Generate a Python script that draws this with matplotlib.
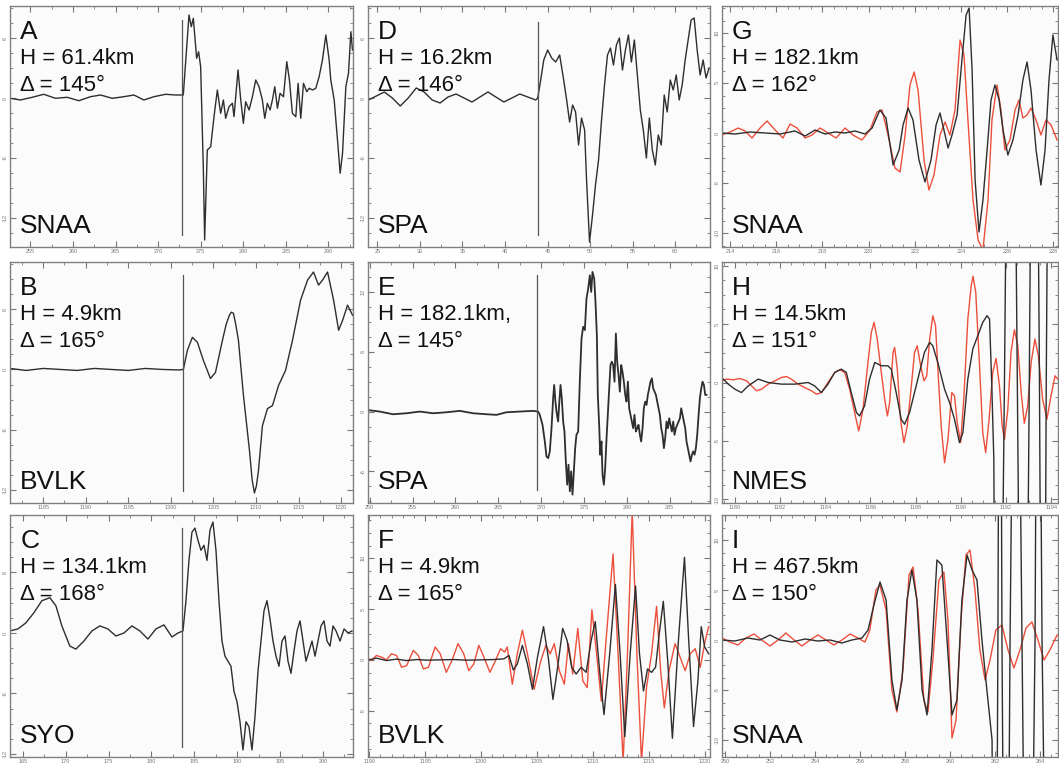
import numpy as np
import matplotlib.pyplot as plt
from matplotlib.ticker import MultipleLocator, AutoMinorLocator

plt.rcParams['font.family'] = ['Liberation Sans', 'DejaVu Sans']

# event / station annotations, panels A..I (column by column)
letters = ['A', 'B', 'C', 'D', 'E', 'F', 'G', 'H', 'I']
depths = ['61.4km', '4.9km', '134.1km', '16.2km', '182.1km,', '4.9km', '182.1km', '14.5km', '467.5km']
distances = [145, 165, 168, 146, 145, 165, 162, 151, 150]
stations = ['SNAA', 'BVLK', 'SYO', 'SPA', 'SPA', 'BVLK', 'SNAA', 'NMES', 'SNAA']

# picked arrival time (s) and the amplitude span of the pick marker
arrivals = {'A': 272.76, 'B': 1201.47, 'C': 183.55, 'D': 43.85, 'E': 269.57}
arrival_span = {'A': (-13.7, 7.8), 'B': (-12.1, 9.4), 'C': (-11.3, 10.4),
                'D': (-13.7, 7.6), 'E': (-7.83, 13.67)}

# recorded traces: (time s, amplitude)
trace_a = [(252.65, -0.03), (253.82, -0.2), (255.2, 0.07), (256.57, 0.37), (257.94, -0.03),
           (259.31, 0.07), (260.69, -0.27), (262.06, 0.13), (263.24, 0.3), (264.61, -0.03),
           (265.98, 0.13), (267.16, 0.3), (268.33, -0.2), (269.51, 0.13), (270.88, 0.37),
           (272.06, 0.3), (272.96, 0.3), (273.63, 8.3), (273.9, 7.13), (274.14, 7.97),
           (274.53, 3.97), (274.76, 4.63), (275.0, 3.13), (275.31, -6.87), (275.47, -14.2),
           (275.78, -5.2), (276.18, -4.87), (276.57, -1.87), (276.96, 0.8), (277.35, -1.53),
           (277.67, -0.2), (277.94, -2.03), (278.33, -0.87), (278.73, -0.53), (278.92, -1.87),
           (279.39, 2.8), (279.71, -0.2), (280.02, -2.53), (280.29, -0.37), (280.69, -1.2),
           (281.08, 0.13), (281.47, 1.8), (281.86, 1.13), (282.25, -0.2), (282.53, -2.03),
           (282.84, -0.53), (283.16, -1.2), (283.43, -0.2), (283.71, 1.13), (284.02, -1.03),
           (284.33, 0.47), (284.73, 0.13), (285.12, 3.63), (285.43, 1.8), (285.78, -1.53),
           (286.18, -1.87), (286.45, 1.47), (286.76, -2.03), (287.08, 1.47), (287.47, 0.63),
           (287.75, 0.97), (288.14, 0.8), (288.53, 0.97), (288.92, 2.13), (289.31, 3.8),
           (289.71, 6.3), (290.1, 3.8), (290.29, 1.8), (290.69, -0.2), (291.08, -4.2),
           (291.39, -7.53), (291.67, -5.53), (292.06, 1.13), (292.37, 2.47), (292.65, 6.63),
           (292.84, 4.8)]

trace_b = [(1181.1, 0.1), (1183.0, -0.1), (1185.0, 0.1), (1187.0, 0.0), (1189.0, -0.1),
           (1191.0, 0.1), (1193.0, 0.0), (1195.0, -0.1), (1197.0, 0.1), (1199.0, 0.0),
           (1201.0, -0.05), (1201.47, 0.0), (1201.94, 1.9), (1202.53, 3.2), (1203.12, 2.7),
           (1203.82, 0.9), (1204.65, -0.9), (1205.24, -0.3), (1206.06, 2.9), (1206.5, 4.5),
           (1206.88, 5.4), (1207.1, 5.7), (1207.35, 5.6), (1207.6, 4.6), (1207.94, 2.9),
           (1208.53, -2.6), (1209.24, -8.1), (1209.55, -11.0), (1209.82, -12.3), (1210.05, -11.6),
           (1210.29, -10.1), (1210.76, -5.6), (1211.35, -3.9), (1211.94, -3.6), (1212.65, -1.6),
           (1213.47, -0.1), (1214.29, 2.9), (1215.24, 6.9), (1216.06, 8.9), (1216.76, 9.7),
           (1217.35, 8.4), (1217.82, 8.9), (1218.41, 9.7), (1219.12, 6.9), (1219.71, 3.9),
           (1220.18, 4.9), (1220.76, 6.4), (1221.35, 5.4)]

trace_c = [(163.48, 0.2), (164.42, 0.4), (165.35, 1.0), (166.28, 2.0), (167.22, 3.2),
           (168.15, 3.5), (168.85, 2.7), (169.55, 0.7), (170.48, -1.3), (171.18, -1.6),
           (172.12, -0.8), (173.05, 0.2), (173.98, 0.7), (174.92, 0.4), (175.85, -0.3),
           (176.79, 0.0), (177.72, 0.7), (178.65, 0.2), (179.59, -0.6), (180.52, 0.4),
           (181.45, 0.8), (182.39, -0.4), (183.09, 0.0), (183.67, 0.2), (184.02, 3.2),
           (184.37, 7.2), (184.72, 10.0), (185.07, 10.4), (185.42, 9.2), (185.77, 8.2),
           (186.12, 8.7), (186.47, 7.2), (186.82, 10.2), (187.17, 11.0), (187.52, 8.2),
           (187.87, 3.2), (188.22, -0.8), (188.57, -2.3), (188.92, -2.8), (189.27, -3.3),
           (189.62, -5.8), (189.97, -6.8), (190.32, -8.8), (190.67, -11.6), (191.02, -8.8),
           (191.37, -9.3), (191.72, -11.6), (192.07, -8.3), (192.42, -3.8), (192.77, -0.8),
           (193.12, 2.2), (193.47, 3.2), (193.82, 1.4), (194.17, -0.8), (194.52, -2.3),
           (194.87, -3.3), (195.22, -0.8), (195.57, -0.3), (195.92, -2.8), (196.27, -4.0),
           (196.62, -1.8), (196.97, 0.2), (197.32, 1.2), (197.67, -0.8), (198.02, -2.8),
           (198.37, -1.8), (198.72, -0.8), (199.07, -2.3), (199.42, -0.8), (199.77, 0.7),
           (200.12, 1.2), (200.47, -0.8), (200.82, -1.3), (201.17, 0.7), (201.52, 0.2),
           (201.99, -0.8), (202.46, 0.4), (202.92, 0.0), (203.39, 0.2)]

trace_d = [(23.95, -0.2), (24.88, 0.2), (25.82, 0.6), (26.76, 0.0), (27.69, -0.8),
           (28.63, 0.0), (29.57, 1.0), (30.5, 0.6), (31.44, -0.2), (32.38, -0.5),
           (33.31, 0.1), (34.25, 0.4), (35.19, 0.0), (36.12, -0.4), (37.06, 0.1),
           (38.0, 0.6), (38.93, 0.1), (39.87, -0.4), (40.81, 0.0), (41.74, 0.4),
           (42.68, 0.1), (43.62, -0.2), (43.85, 0.0), (44.2, 1.8), (44.56, 3.8),
           (45.02, 4.8), (45.49, 4.0), (45.96, 3.6), (46.43, 4.3), (46.9, 1.8),
           (47.25, -0.2), (47.6, -2.4), (47.95, -0.7), (48.3, -1.4), (48.65, -4.7),
           (49.0, -2.0), (49.36, -3.2), (49.59, -8.2), (49.94, -14.4), (50.29, -11.7),
           (50.64, -8.7), (51.0, -6.2), (51.35, -2.2), (51.7, 1.3), (52.05, 4.3),
           (52.4, 5.0), (52.75, 3.3), (53.1, 5.3), (53.45, 6.0), (53.81, 2.8),
           (54.16, 4.8), (54.51, 6.3), (54.86, 3.6), (55.21, 5.8), (55.56, 2.3),
           (55.91, -1.2), (56.26, -3.2), (56.62, -6.0), (56.97, -2.0), (57.32, -5.2),
           (57.67, -6.7), (58.02, -3.7), (58.37, -4.7), (58.72, 0.3), (59.07, -1.4),
           (59.43, 1.8), (59.78, 0.8), (60.13, 2.3), (60.48, -0.2), (60.83, 1.3),
           (61.18, 3.8), (61.53, 5.8), (61.88, 7.8), (62.24, 8.0), (62.59, 4.8),
           (62.94, 2.3), (63.29, 3.8), (63.64, 2.0), (63.99, 3.0)]

trace_e = [(249.61, 0.17), (251.17, 0.0), (252.72, -0.27), (254.28, -0.17), (255.84, 0.0),
           (257.39, -0.17), (258.95, -0.07), (260.51, 0.07), (262.06, -0.17), (263.62, -0.27),
           (264.79, -0.33), (265.95, -0.07), (267.51, 0.0), (269.07, 0.07), (269.65, 0.0),
           (269.84, -0.33), (270.16, -1.33), (270.43, -3.0), (270.62, -4.5), (270.82, -4.67),
           (271.01, -4.0), (271.21, -1.67), (271.4, 1.33), (271.52, 2.67), (271.67, 1.0),
           (271.79, 0.0), (271.98, -1.0), (272.1, 0.67), (272.26, 2.67), (272.41, 1.33),
           (272.57, -1.0), (272.72, -2.0), (272.88, -5.0), (273.04, -7.33), (273.19, -5.33),
           (273.35, -8.0), (273.5, -6.0), (273.66, -8.33), (273.81, -6.0), (273.97, -3.67),
           (274.12, -2.33), (274.32, -2.0), (274.51, 3.0), (274.71, 7.33), (274.9, 8.5),
           (275.1, 8.17), (275.29, 11.33), (275.49, 12.33), (275.68, 13.67), (275.84, 12.0),
           (275.99, 14.0), (276.19, 13.33), (276.34, 11.0), (276.5, 7.67), (276.61, 1.67),
           (276.77, -1.33), (276.89, -4.33), (277.04, -3.0), (277.16, -6.33), (277.32, -7.33),
           (277.47, -5.67), (277.63, -2.67), (277.78, -0.33), (277.94, 2.33), (278.09, 4.67),
           (278.25, 5.0), (278.4, 4.67), (278.56, 3.0), (278.72, 7.83), (278.87, 5.0),
           (279.03, 3.67), (279.18, 2.0), (279.34, 4.67), (279.49, 4.0), (279.65, 3.0),
           (279.81, 1.67), (279.96, 1.0), (280.12, 3.0), (280.27, 0.33), (280.43, -0.33),
           (280.58, -1.0), (280.74, -1.67), (280.89, -0.33), (281.05, -2.0), (281.21, -1.67),
           (281.36, -1.33), (281.52, -2.33), (281.67, -3.0), (281.83, -1.67), (281.98, 0.33),
           (282.14, 1.0), (282.3, 0.67), (282.45, 1.67), (282.61, 2.33), (282.76, 3.0),
           (282.92, 3.33), (283.07, 2.33), (283.23, 2.0), (283.39, 1.67), (283.54, 1.0),
           (283.7, 0.33), (283.85, -0.33), (284.01, -1.67), (284.16, -2.33), (284.32, -3.67),
           (284.47, -2.67), (284.63, -1.0), (284.79, -1.67), (284.94, -0.67), (285.1, -1.33),
           (285.25, -2.0), (285.41, -1.0), (285.56, -2.33), (285.72, -1.67), (285.88, -1.33),
           (286.03, -1.0), (286.19, -0.67), (286.34, 0.33), (286.5, -0.33), (286.65, -1.0),
           (286.81, -1.67), (286.96, -3.0), (287.12, -3.67), (287.28, -4.33), (287.43, -5.0),
           (287.59, -4.33), (287.74, -4.0), (287.9, -4.33), (288.05, -3.67), (288.21, -2.33),
           (288.37, -0.33), (288.52, 1.33), (288.68, 2.33), (288.83, 3.0), (288.99, 2.67),
           (289.14, 1.67), (289.3, 1.67)]

# observed (black) and synthetic (red) pairs
trace_f_obs = [(1189.75, -0.07), (1190.65, 0.17), (1191.55, -0.07), (1192.45, 0.07), (1193.35, -0.07),
               (1194.25, 0.03), (1195.15, -0.03), (1196.35, 0.0), (1197.55, 0.03), (1198.75, -0.03),
               (1199.95, 0.0), (1201.15, 0.03), (1202.04, 0.1), (1202.49, 0.43), (1202.88, -1.0),
               (1203.24, -0.4), (1203.69, 1.43), (1204.14, -0.4), (1204.59, -2.9), (1205.04, 0.27),
               (1205.58, 3.27), (1206.0, 0.27), (1206.42, -3.9), (1206.84, -0.73), (1207.29, 3.1),
               (1207.68, 1.93), (1208.1, -0.73), (1208.49, -1.4), (1208.94, -0.73), (1209.39, -1.23),
               (1209.84, 1.93), (1210.2, 3.77), (1210.59, -1.07), (1210.98, -5.4), (1211.49, 0.6),
               (1212.0, 7.43), (1212.42, 0.6), (1212.84, -7.57), (1213.32, 0.6), (1213.8, 7.27),
               (1214.15, 0.6), (1214.51, -3.07), (1214.87, -0.9), (1215.23, -1.23), (1215.59, -0.73),
               (1215.92, 2.6), (1216.28, 5.77), (1216.67, -0.07), (1217.09, -7.73), (1217.63, 1.93),
               (1218.17, 10.1), (1218.53, 2.27), (1218.98, -6.57), (1219.37, -2.07), (1219.67, 3.27),
               (1219.97, 1.27), (1220.33, 0.6)]
trace_f_syn = [(1189.75, 0.27), (1190.2, -0.07), (1190.65, 0.43), (1191.1, 0.27), (1191.55, 0.0),
               (1192.0, 0.6), (1192.45, 0.43), (1192.9, -0.73), (1193.35, -0.57), (1193.95, 0.93),
               (1194.4, 0.43), (1194.85, -0.9), (1195.3, -0.73), (1195.9, 1.27), (1196.35, 0.6),
               (1196.89, -1.23), (1197.4, -0.07), (1197.94, 1.6), (1198.45, 0.6), (1198.9, -1.07),
               (1199.35, -0.4), (1199.8, 1.43), (1200.25, 0.27), (1200.79, -1.23), (1201.29, -0.07),
               (1201.74, 1.1), (1202.1, 0.77), (1202.34, 1.27), (1202.79, -2.4), (1203.24, 0.6),
               (1203.69, 2.93), (1204.14, 0.6), (1204.74, -2.9), (1205.34, -0.07), (1205.79, 1.43),
               (1206.18, 0.6), (1206.54, 1.6), (1206.99, -1.07), (1207.44, -2.4), (1207.8, 1.6),
               (1208.19, -1.4), (1208.64, 3.1), (1209.09, -2.07), (1209.48, -2.73), (1209.9, 4.93),
               (1210.32, 0.6), (1210.74, -4.07), (1211.19, 2.27), (1211.79, 10.43), (1212.24, 0.6),
               (1212.69, -10.07), (1213.08, 0.6), (1213.5, 14.6), (1213.92, 0.6), (1214.33, -10.0),
               (1214.78, -2.73), (1215.23, 0.6), (1215.68, 5.27), (1216.04, -1.07), (1216.37, -4.73),
               (1216.79, -1.07), (1217.33, 1.6), (1217.78, 0.27), (1218.23, -1.07), (1218.68, 0.6),
               (1219.13, 1.1), (1219.58, -0.73), (1220.03, 1.93), (1220.33, 3.27)]

trace_g_obs = [(213.65, 0.0), (214.22, -0.1), (214.87, 0.1), (215.52, 0.0), (216.16, -0.1),
               (216.81, 0.2), (217.25, -0.3), (217.68, 0.3), (218.11, -0.1), (218.55, 0.1),
               (218.98, 0.0), (219.41, 0.2), (219.84, -0.1), (220.15, 0.5), (220.49, 2.3),
               (220.75, 1.5), (221.06, -3.2), (221.32, -1.7), (221.49, 0.8), (221.71, 2.5),
               (221.92, 1.3), (222.18, -2.7), (222.44, -4.9), (222.7, -2.7), (222.92, 0.8),
               (223.09, 2.0), (223.26, 0.3), (223.44, -1.5), (223.61, -0.2), (223.83, 1.8),
               (224.04, 7.3), (224.22, 11.8), (224.35, 12.5), (224.48, 6.3), (224.61, -4.7),
               (224.78, -9.9), (224.95, -6.7), (225.13, -1.7), (225.3, 3.3), (225.47, 4.8),
               (225.65, 3.3), (225.82, 0.3), (226.03, -2.2), (226.25, -0.7), (226.47, 1.8),
               (226.68, 5.3), (226.86, 7.1), (227.03, 4.3), (227.25, -1.7), (227.46, -5.2),
               (227.64, -1.7), (227.81, 5.3), (227.98, 9.8), (228.16, 7.3)]
trace_g_syn = [(213.65, -0.2), (214.0, 0.1), (214.35, 0.5), (214.65, 0.2), (214.95, -0.5),
               (215.3, 0.5), (215.6, 1.2), (215.95, 0.3), (216.29, -0.5), (216.6, 0.9),
               (216.9, 0.5), (217.25, -0.5), (217.55, -0.2), (217.9, 0.5), (218.24, 0.0),
               (218.59, -0.5), (218.98, 0.5), (219.32, -0.2), (219.71, -0.7), (220.06, 0.3),
               (220.36, 2.1), (220.58, 2.3), (220.84, -0.2), (221.14, -3.5), (221.36, -3.9),
               (221.58, -0.2), (221.79, 4.8), (221.97, 6.1), (222.14, 4.3), (222.4, -2.7),
               (222.61, -5.7), (222.83, -4.2), (223.09, -0.2), (223.31, 1.1), (223.52, -0.2),
               (223.74, 2.3), (223.96, 9.3), (224.13, 7.8), (224.3, 1.3), (224.52, -6.7),
               (224.74, -10.7), (224.95, -11.7), (225.17, -6.7), (225.34, 1.3), (225.56, 4.8),
               (225.73, 2.3), (225.9, -1.7), (226.12, -0.7), (226.34, 2.3), (226.51, 3.3),
               (226.68, 1.5), (226.86, 1.8), (227.03, 2.5), (227.25, 1.3), (227.46, -0.2),
               (227.68, 1.3), (227.9, 0.8), (228.16, -0.7)]

trace_h_obs = [(1179.41, 0.43), (1179.71, -0.14), (1180.0, -0.57), (1180.29, -0.86), (1180.59, -0.29),
               (1181.03, 0.29), (1181.47, 0.0), (1182.06, -0.14), (1182.65, -0.14), (1183.24, 0.0),
               (1183.53, -0.29), (1183.83, -0.86), (1184.12, -0.14), (1184.42, 0.86), (1184.71, 1.14),
               (1184.93, 0.86), (1185.15, -0.86), (1185.38, -2.57), (1185.52, -2.86), (1185.74, -2.0),
               (1185.96, 0.29), (1186.19, 1.71), (1186.48, 1.43), (1186.77, 1.43), (1186.92, 1.14),
               (1187.14, -0.86), (1187.36, -3.14), (1187.51, -3.57), (1187.73, -2.57), (1187.95, -0.86),
               (1188.17, 0.86), (1188.39, 2.57), (1188.62, 3.43), (1188.76, 3.14), (1188.98, 1.71),
               (1189.28, -0.57), (1189.5, -1.71), (1189.72, -3.14), (1189.94, -5.14), (1190.09, -4.29),
               (1190.31, 0.29), (1190.53, 2.86), (1190.75, 4.0), (1190.97, 5.14), (1191.16, 5.71),
               (1191.27, 5.43), (1191.37, -0.29), (1191.46, -6.57), (1191.6, -60.0), (1191.93, 0.0),
               (1192.22, 60.0), (1192.5, 0.0), (1192.77, -60.0), (1193.03, 0.0), (1193.25, 60.0),
               (1193.48, 0.0), (1193.64, -60.0), (1193.78, 0.0), (1193.99, 60.0), (1194.29, 40.0)]
trace_h_syn = [(1179.41, 0.14), (1179.63, 0.29), (1179.93, 0.23), (1180.22, 0.34), (1180.52, 0.14),
               (1180.74, -0.29), (1180.96, -0.71), (1181.18, -0.57), (1181.47, -0.14), (1181.77, 0.14),
               (1182.06, 0.43), (1182.28, 0.51), (1182.5, 0.29), (1182.8, -0.14), (1183.09, -0.43),
               (1183.39, -0.71), (1183.61, -1.0), (1183.83, -0.86), (1184.12, 0.0), (1184.42, 0.86),
               (1184.64, 1.09), (1184.86, 0.86), (1185.08, -0.57), (1185.3, -2.57), (1185.48, -4.14),
               (1185.67, -2.29), (1185.89, 1.71), (1186.04, 4.29), (1186.16, 5.14), (1186.3, 3.71),
               (1186.48, 0.86), (1186.63, -1.43), (1186.75, -2.86), (1186.85, -1.71), (1187.0, 2.57),
               (1187.07, 3.0), (1187.19, 1.14), (1187.33, -3.14), (1187.48, -5.14), (1187.63, -3.71),
               (1187.81, -0.29), (1187.95, 2.57), (1188.07, 3.14), (1188.22, 1.43), (1188.37, 0.14),
               (1188.49, 0.57), (1188.62, 3.71), (1188.76, 5.71), (1188.88, 4.86), (1189.01, 0.29),
               (1189.13, -3.71), (1189.28, -6.86), (1189.43, -4.86), (1189.6, -0.86), (1189.72, -1.14),
               (1189.84, -3.43), (1189.99, -5.14), (1190.13, -1.43), (1190.31, 5.43), (1190.46, 8.29),
               (1190.54, 9.09), (1190.66, 7.71), (1190.82, 1.71), (1190.97, -4.29), (1191.1, -6.0),
               (1191.25, -3.14), (1191.41, 0.86), (1191.56, 2.06), (1191.71, -0.29), (1191.83, -3.71),
               (1191.93, -4.86), (1192.08, -2.29), (1192.22, 2.57), (1192.37, 4.51), (1192.52, 3.14),
               (1192.67, -0.86), (1192.81, -3.49), (1192.96, -2.0), (1193.11, 1.71), (1193.28, 3.71),
               (1193.43, 2.29), (1193.62, -1.43), (1193.81, -3.14), (1193.99, -1.14), (1194.17, 0.57),
               (1194.29, 0.29)]

trace_i_obs = [(249.87, 0.0), (250.44, -0.1), (251.02, 0.2), (251.56, 0.0), (252.0, 0.5),
               (252.44, 0.0), (252.98, -0.2), (253.56, 0.1), (254.13, -0.1), (254.67, 0.0),
               (255.2, -0.3), (255.64, 0.0), (256.09, 0.2), (256.36, 1.0), (256.62, 3.5),
               (256.89, 5.8), (257.16, 4.0), (257.42, -4.0), (257.64, -7.0), (257.87, -4.0),
               (258.09, 4.0), (258.31, 7.0), (258.53, 4.0), (258.76, -5.0), (258.98, -7.5),
               (259.2, -1.0), (259.42, 8.0), (259.64, 7.5), (259.87, 0.0), (260.09, -7.5),
               (260.31, -6.0), (260.53, 4.0), (260.76, 8.5), (260.98, 7.0), (261.2, 6.0),
               (261.42, 0.0), (261.64, -5.0), (261.87, -10.0), (262.0, -60.0), (262.13, 0.0),
               (262.22, 60.0), (262.31, 0.0), (262.49, -60.0), (262.67, 0.0), (262.93, 60.0),
               (263.2, 0.0), (263.47, -60.0), (263.78, 0.0), (263.91, 60.0), (264.09, 0.0),
               (264.44, -60.0), (264.76, -30.0)]
trace_i_syn = [(249.87, 0.2), (250.22, -0.2), (250.58, -0.5), (250.93, 0.2), (251.29, 0.6),
               (251.64, 0.0), (252.0, -0.6), (252.36, 0.0), (252.71, 0.7), (253.07, 0.0),
               (253.42, -0.6), (253.78, 0.0), (254.13, 0.5), (254.49, 0.0), (254.84, -0.5),
               (255.2, 0.0), (255.56, 0.6), (255.91, 0.2), (256.22, -0.2), (256.44, 1.0),
               (256.71, 5.0), (256.89, 5.5), (257.16, 3.0), (257.42, -5.0), (257.64, -7.2),
               (257.91, -3.0), (258.18, 6.5), (258.36, 7.3), (258.58, 3.0), (258.84, -6.0),
               (259.02, -7.2), (259.24, -2.0), (259.51, 6.0), (259.73, 6.8), (259.91, 2.0),
               (260.09, -9.8), (260.27, -8.0), (260.49, 2.0), (260.71, 8.5), (260.89, 9.0),
               (261.11, 5.0), (261.33, -1.0), (261.56, -4.0), (261.78, -2.0), (262.04, 1.0),
               (262.31, 1.5), (262.58, -1.0), (262.84, -2.8), (263.11, -1.0), (263.38, 1.2),
               (263.64, 1.8), (263.91, 0.0), (264.18, -2.0), (264.44, -1.0), (264.76, 0.5)]

obs_color = '#2e2e2e'
syn_color = '#ec4f3c'

traces = {
    'A': [(trace_a, obs_color)],
    'B': [(trace_b, obs_color)],
    'C': [(trace_c, obs_color)],
    'D': [(trace_d, obs_color)],
    'E': [(trace_e, obs_color)],
    'F': [(trace_f_syn, syn_color), (trace_f_obs, obs_color)],
    'G': [(trace_g_syn, syn_color), (trace_g_obs, obs_color)],
    'H': [(trace_h_syn, syn_color), (trace_h_obs, obs_color)],
    'I': [(trace_i_syn, syn_color), (trace_i_obs, obs_color)],
}

# axis limits, tick spacing (x major, x minor count, y major)
axis_setup = {
    'A': ((252.6, 292.9), (-14.9, 9.2), 5, 2, 6),
    'B': ((1181.1, 1221.4), (-13.3, 10.7), 5, 2, 6),
    'C': ((163.5, 203.5), (-12.3, 11.7), 5, 2, 6),
    'D': ((23.9, 64.1), (-14.9, 9.2), 5, 2, 6),
    'E': ((249.8, 289.7), (-9.17, 15.0), 5, 2, 6),
    'F': ((1189.9, 1220.45), (-9.57, 14.27), 5, 5, 5),
    'G': ((213.65, 228.2), (-11.4, 12.7), 2, 4, 5),
    'H': ((1179.43, 1194.3), (-10.3, 10.3), 2, 4, 5),
    'I': ((249.87, 264.8), (-11.7, 12.5), 2, 4, 5),
}

col_left = [10 / 1059, 368 / 1059, 722 / 1059]
col_width = [343 / 1059, 342 / 1059, 336 / 1059]
row_bottom = [1 - 247 / 768, 1 - 503 / 768, 1 - 757 / 768]
row_height = [241 / 768, 241 / 768, 242 / 768]

fig = plt.figure(figsize=(10.59, 7.68), dpi=100, facecolor='white')

for k, key in enumerate(letters):
    col, row = k // 3, k % 3
    ax = fig.add_axes([col_left[col], row_bottom[row], col_width[col], row_height[row]])
    ax.set_facecolor('#fbfbfb')

    # the SPA record at panel E is drawn a little heavier
    lw = 1.3 if key == 'E' else 1.0
    for pairs, color in traces[key]:
        t, amp = zip(*pairs)
        ax.plot(t, amp, color=color, lw=lw, solid_joinstyle='round')

    if key in arrivals:
        lo, hi = arrival_span[key]
        ax.plot([arrivals[key], arrivals[key]], [lo, hi], color='#555555', lw=0.9)

    xlim, ylim, xstep, xminor, ystep = axis_setup[key]
    ax.set_xlim(*xlim)
    ax.set_ylim(*ylim)
    ax.xaxis.set_major_locator(MultipleLocator(xstep))
    ax.xaxis.set_minor_locator(AutoMinorLocator(xminor))
    ax.yaxis.set_major_locator(MultipleLocator(ystep))
    ax.yaxis.set_minor_locator(AutoMinorLocator(4))
    ax.xaxis.set_major_formatter(lambda v, p: f'{v:.0f}')
    ax.yaxis.set_major_formatter(lambda v, p: f'{v:.0f}')
    ax.tick_params(which='both', direction='in', top=True, right=True, color='#777777',
                   labelsize=4, labelcolor='#777777', pad=1.5)
    ax.tick_params(which='major', length=4, width=0.8)
    ax.tick_params(which='minor', length=2, width=0.6)
    for lab in ax.get_yticklabels():
        lab.set_rotation(90)
        lab.set_va('center')
    for sp in ax.spines.values():
        sp.set_color('#808080')
        sp.set_linewidth(1.0)

    txt = dict(transform=ax.transAxes, va='baseline', ha='left', color='#111111')
    ax.text(0.03, 0.863, key, fontsize=19, **txt)
    ax.text(0.03, 0.759, f'H = {depths[k]}', fontsize=16, **txt)
    ax.text(0.03, 0.647, f'\u0394 = {distances[k]}\u00b0', fontsize=16, **txt)
    ax.text(0.03, 0.058, stations[k], fontsize=19, **txt)

fig.savefig('out.png', dpi=100, facecolor='white')
